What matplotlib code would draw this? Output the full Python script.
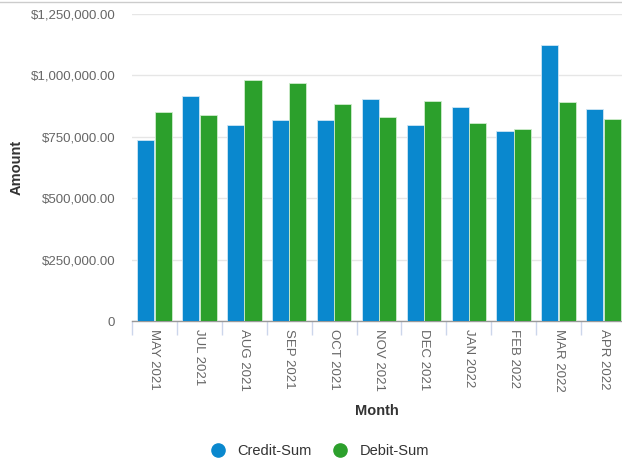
import numpy as np
import matplotlib
matplotlib.use("Agg")
import matplotlib.pyplot as plt
from matplotlib.lines import Line2D
from matplotlib.ticker import FuncFormatter, FixedLocator

plt.rcParams["font.family"] = ["Liberation Sans", "DejaVu Sans"]

months = ["MAY 2021", "JUL 2021", "AUG 2021", "SEP 2021", "OCT 2021", "NOV 2021",
          "DEC 2021", "JAN 2022", "FEB 2022", "MAR 2022", "APR 2022"]
credit_sum = [737000, 916000, 799000, 818000, 818000, 903000,
              799000, 873000, 775000, 1122000, 863000]
debit_sum = [852000, 837000, 981000, 970000, 884000, 829000,
             897000, 805000, 780000, 892000, 824000]

C_CREDIT, C_DEBIT = "#0A88CE", "#2CA02C"
W, H = 622, 458

fig = plt.figure(figsize=(W / 100, H / 100), dpi=100)
ax = fig.add_axes([132 / W, 1 - 321 / H, 490 / W, 307 / H])

x = np.arange(len(months))
bw = 0.38
ax.bar(x - bw / 2 - 0.005, credit_sum, bw, color=C_CREDIT, edgecolor="#cfe6f5", lw=0.6, zorder=3)
ax.bar(x + bw / 2 + 0.005, debit_sum, bw, color=C_DEBIT, edgecolor="#cfeccd", lw=0.6, zorder=3)

ax.set_ylim(0, 1250000)
ax.set_xlim(-0.5, 10.5 - 4 / 44.9)
ax.set_yticks(np.arange(0, 1250001, 250000))
ax.yaxis.set_major_formatter(FuncFormatter(lambda v, p: "0" if v == 0 else f"${v:,.2f}"))
ax.grid(axis="y", color="#e6e6e6", lw=1, zorder=0)

ax.set_xticks(x)
ax.set_xticklabels(months, rotation=270, va="top", ha="center")
ax.xaxis.set_minor_locator(FixedLocator(x - 0.5))
ax.tick_params(axis="x", which="major", length=0, pad=6, labelsize=9.5, labelcolor="#666666")
ax.tick_params(axis="x", which="minor", length=10, width=1, color="#ccd6eb")
ax.tick_params(axis="y", length=0, pad=12, labelsize=9.5, labelcolor="#666666")

for s in ("top", "right", "left"):
    ax.spines[s].set_visible(False)
ax.spines["bottom"].set_color("#999999")
ax.spines["bottom"].set_linewidth(1)

ax.set_xlabel("Month", fontsize=10.5, fontweight="bold", color="#333333")
ax.set_ylabel("Amount", fontsize=10.5, fontweight="bold", color="#333333")
ax.yaxis.set_label_coords(-(132 - 24) / 490, 0.5)
ax.xaxis.set_label_coords(0.5, -(404 - 321) / 307)

# thin border line across the top of the chart
fig.add_artist(Line2D([0, 1], [1 - 1.5 / H, 1 - 1.5 / H], color="#cccccc", lw=1))

handles = [Line2D([], [], ls="", marker="o", ms=9.5, color=C_CREDIT),
           Line2D([], [], ls="", marker="o", ms=9.5, color=C_DEBIT)]
fig.legend(handles, ["Credit-Sum", "Debit-Sum"], loc="center",
           bbox_to_anchor=(316 / W, 1 - 451 / H), ncol=2, frameon=False,
           fontsize=10.5, handletextpad=0.3, columnspacing=1.0,
           labelcolor="#333333")

fig.savefig("out.png", dpi=100)
